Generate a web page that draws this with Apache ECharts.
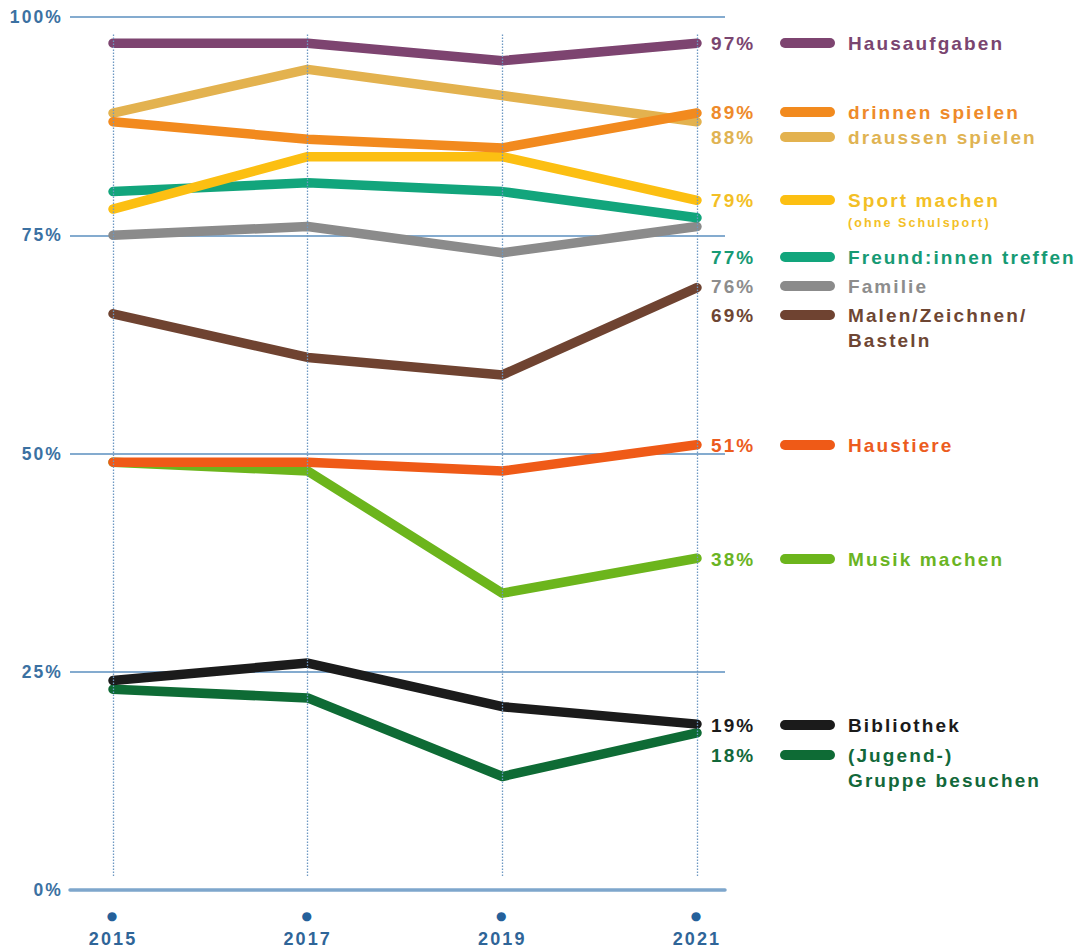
<!DOCTYPE html>
<html>
<head>
<meta charset="utf-8">
<script src="https://cdn.jsdelivr.net/npm/echarts@6/dist/echarts.min.js"></script>
<style>
  html, body { margin: 0; padding: 0; background: #ffffff; }
  #main { width: 1079px; height: 950px; }
  #main text { letter-spacing: 2.1px; }
</style>
</head>
<body>
<div id="main"></div>
<script>
// ---------- DATA ----------
const years = [2015, 2017, 2019, 2021];
const yTicks = [0, 25, 50, 75, 100];

const hausaufgaben   = [97, 97, 95, 97];
const drinnenSpielen = [88, 86, 85, 89];
const draussenSpielen= [89, 94, 91, 88];
const sportMachen    = [78, 84, 84, 79];
const freundinnen    = [80, 81, 80, 77];
const familie        = [75, 76, 73, 76];
const malen          = [66, 61, 59, 69];
const haustiere      = [49, 49, 48, 51];
const musikMachen    = [49, 48, 34, 38];
const bibliothek     = [24, 26, 21, 19];
const jugendgruppe   = [23, 22, 13, 18];

// series definitions (drawing order: first is bottom)
const seriesDefs = [
  { key: 'jugend',  name: '(Jugend-)',            extra: ['Gruppe besuchen'], data: jugendgruppe },
  { key: 'biblio',  name: 'Bibliothek',           extra: [], data: bibliothek },
  { key: 'musik',   name: 'Musik machen',         extra: [], data: musikMachen },
  { key: 'haust',   name: 'Haustiere',            extra: [], data: haustiere },
  { key: 'malen',   name: 'Malen/Zeichnen/',      extra: ['Basteln'], data: malen },
  { key: 'familie', name: 'Familie',              extra: [], data: familie },
  { key: 'freund',  name: 'Freund:innen treffen', extra: [], data: freundinnen },
  { key: 'sport',   name: 'Sport machen',         extra: [], sub: '(ohne Schulsport)', data: sportMachen },
  { key: 'draus',   name: 'draussen spielen',     extra: [], data: draussenSpielen },
  { key: 'drinn',   name: 'drinnen spielen',      extra: [], data: drinnenSpielen },
  { key: 'haus',    name: 'Hausaufgaben',         extra: [], data: hausaufgaben }
];

// ---------- STYLES / LAYOUT ----------
const colors = {
  haus: '#7d4470', drinn: '#f28a1e', draus: '#e3b24f', sport: '#fcbf12',
  freund: '#12a57c', familie: '#8b8b8b', malen: '#6f4331', haust: '#ef5a17',
  musik: '#6cb51c', biblio: '#1b1b1b', jugend: '#0e6b35'
};
const textColors = {
  haus: '#7a4570', drinn: '#ee8a2a', draus: '#e0b352', sport: '#f3bf26',
  freund: '#169a74', familie: '#8d8d8d', malen: '#6e4633', haust: '#ec5c1e',
  musik: '#6ab423', biblio: '#1b1b1b', jugend: '#12683a'
};
const labelY = {
  haus: 43, drinn: 112, draus: 137, sport: 200, freund: 257, familie: 286,
  malen: 315, haust: 445, musik: 559, biblio: 725, jugend: 755
};
const LINE_H = 25;
const VALUE_X = 711, SW_X1 = 785, SW_X2 = 830, NAME_X = 848;
const FONT = 'bold 19px "Liberation Sans", Arial, sans-serif';
const AXIS_BLUE = '#3b71a2';
const GRID_BLUE = '#5b8fbf';

const chart = echarts.init(document.getElementById('main'), null, { renderer: 'svg' });

const series = seriesDefs.map(d => ({
  name: d.name,
  type: 'line',
  data: d.data.map((v, i) => [years[i], v]),
  showSymbol: false,
  symbol: 'none',
  silent: true,
  lineStyle: { color: colors[d.key], width: 9.5, cap: 'round', join: 'round' },
  z: 3
}));

// vertical dotted year lines
series.push({
  type: 'line',
  data: [],
  silent: true,
  z: 1,
  markLine: {
    silent: true,
    symbol: 'none',
    label: { show: false },
    lineStyle: { color: '#6d98c2', type: [1.5, 1.5], width: 1.3 },
    data: years.map(y => [{ coord: [y, 98] }, { coord: [y, 1.6] }])
  }
});

const graphics = [];
seriesDefs.forEach(d => {
  const y = labelY[d.key];
  const last = d.data[d.data.length - 1];
  graphics.push({
    type: 'text', x: VALUE_X, y: y, silent: true,
    style: { text: last + '%', font: FONT, fill: textColors[d.key], textAlign: 'left', textVerticalAlign: 'middle' }
  });
  graphics.push({
    type: 'line', silent: true,
    shape: { x1: SW_X1, y1: y, x2: SW_X2, y2: y },
    style: { stroke: colors[d.key], lineWidth: 10, lineCap: 'round' }
  });
  graphics.push({
    type: 'text', x: NAME_X, y: y, silent: true,
    style: { text: d.name, font: FONT, fill: textColors[d.key], textAlign: 'left', textVerticalAlign: 'middle' }
  });
  d.extra.forEach((t, i) => {
    graphics.push({
      type: 'text', x: NAME_X, y: y + LINE_H * (i + 1), silent: true,
      style: { text: t, font: FONT, fill: textColors[d.key], textAlign: 'left', textVerticalAlign: 'middle' }
    });
  });
  if (d.sub) {
    graphics.push({
      type: 'text', x: NAME_X, y: y + 23, silent: true,
      style: { text: d.sub, font: 'bold 12.5px "Liberation Sans", Arial, sans-serif', fill: textColors[d.key], textAlign: 'left', textVerticalAlign: 'middle' }
    });
  }
});

const option = {
  animation: false,
  backgroundColor: '#ffffff',
  grid: { left: 70, right: 354, top: 17, bottom: 60, containLabel: false },
  xAxis: {
    type: 'value',
    min: 2014.558,
    max: 2021.288,
    splitLine: { show: false },
    axisTick: { show: false },
    axisLine: { show: true, onZero: false, lineStyle: { color: '#7ea6cc', width: 3.5 } },
    axisLabel: {
      show: true,
      customValues: years,
      margin: 18,
      formatter: v => '{d|●}\n{y|' + v + '}',
      rich: {
        d: { fontSize: 12, lineHeight: 16, color: '#25609a', fontFamily: 'DejaVu Sans', align: 'center' },
        y: { fontSize: 18, lineHeight: 30, color: '#2f6598', fontWeight: 'bold', fontFamily: '"Liberation Sans", Arial, sans-serif', align: 'center' }
      }
    }
  },
  yAxis: {
    type: 'value',
    min: 0,
    max: 100,
    interval: 25,
    axisLine: { show: false },
    axisTick: { show: false },
    splitLine: { show: true, lineStyle: { color: GRID_BLUE, width: 1.5 } },
    axisLabel: {
      margin: 7,
      color: AXIS_BLUE,
      fontSize: 17.5,
      fontWeight: 'bold',
      fontFamily: '"Liberation Sans", Arial, sans-serif',
      formatter: v => yTicks.indexOf(v) >= 0 ? v + '%' : ''
    }
  },
  series: series,
  graphic: { elements: graphics }
};

chart.setOption(option);
</script>
</body>
</html>
